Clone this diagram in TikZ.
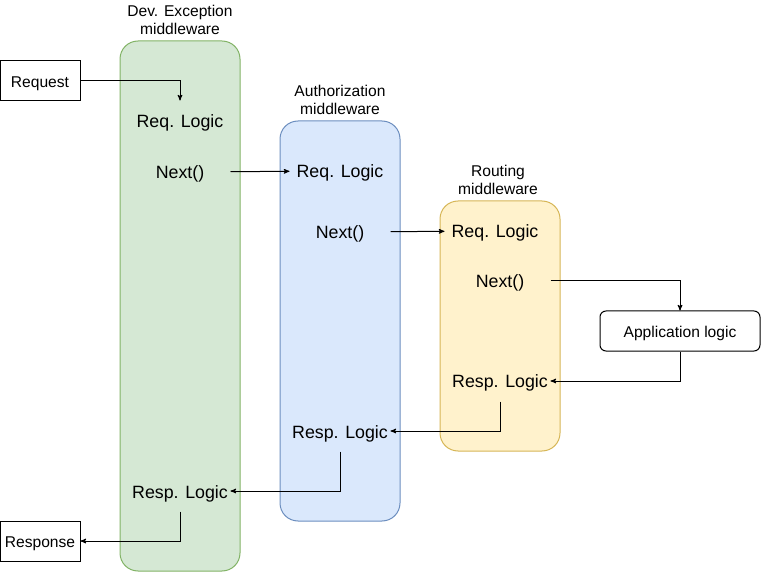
\documentclass[tikz,border=0pt]{standalone}
\usepackage{fontspec}
\setmainfont{Liberation Sans}
\usepackage{xcolor}
\usetikzlibrary{positioning,arrows}
\definecolor{devfill}{HTML}{D5E8D4}
\definecolor{devline}{HTML}{82B366}
\definecolor{authfill}{HTML}{DAE8FC}
\definecolor{authline}{HTML}{6C8EBF}
\definecolor{routfill}{HTML}{FFF2CC}
\definecolor{routline}{HTML}{D6B656}

\begin{document}
\begin{tikzpicture}[->,>=stealth',x=1pt,y=-1pt,line width=1pt,
	panel/.style={draw,rounded corners=18pt,minimum width=120pt,inner sep=0pt},
	logic/.style={minimum width=100pt,minimum height=40pt,inner sep=0pt,text height=14pt,text depth=0pt,font=\fontsize{17.8}{21}\selectfont},
	title/.style={align=center,font=\fontsize{15.6}{18.7}\selectfont},
	box/.style={draw,minimum width=80pt,minimum height=40pt,inner sep=0pt,text height=13pt,text depth=0pt,font=\fontsize{15.6}{18.7}\selectfont}]
	\useasboundingbox (0,0) rectangle (761,572);
	
	% middleware columns
	\node[panel,fill=devfill,draw=devline,minimum height=530pt] (dev) at (180,306) {};
	\node[panel,fill=authfill,draw=authline,minimum height=400pt] (auth) at (340,321) {};
	\node[panel,fill=routfill,draw=routline,minimum height=250pt] (rout) at (500,326) {};
	\node[title] (devtitle) at (180,20) {Dev. Exception\\middleware};
	\node[title] (authtitle) at (340,100) {Authorization\\middleware};
	\node[title] (routtitle) at (498,180) {Routing\\middleware};
	
	\node[box] (request) at (40,81) {Request};
	\node[box] (response) at (40,541) {Response};
	\node[box,rounded corners=6pt,minimum width=160pt] (app) at (680,331) {Application logic};
	
	\node[logic] (devreq) at (180,121) {Req. Logic};
	\node[logic] (devnext) [below=10pt of devreq] {Next()};
	\node[logic] (devresp) at (180,491) {Resp. Logic};
	\node[logic] (authreq) at (340,171) {Req. Logic};
	\node[logic] (authnext) [below=20pt of authreq] {Next()};
	\node[logic] (authresp) at (340,431) {Resp. Logic};
	\node[logic] (routreq) at (495,231) {Req. Logic};
	\node[logic] (routnext) at (500,281) {Next()};
	\node[logic] (routresp) at (500,381) {Resp. Logic};
	
	\draw 	(request) -| (devreq);
	\draw 	(devnext) -- (authreq);
	\draw 	(authnext) -- (routreq);
	\draw 	(routnext) -| (app);
	\draw 	(app) |- (routresp);
	\draw 	(routresp) |- (authresp);
	\draw 	(authresp) |- (devresp);
	\draw 	(devresp) |- (response);
\end{tikzpicture}
\end{document}
